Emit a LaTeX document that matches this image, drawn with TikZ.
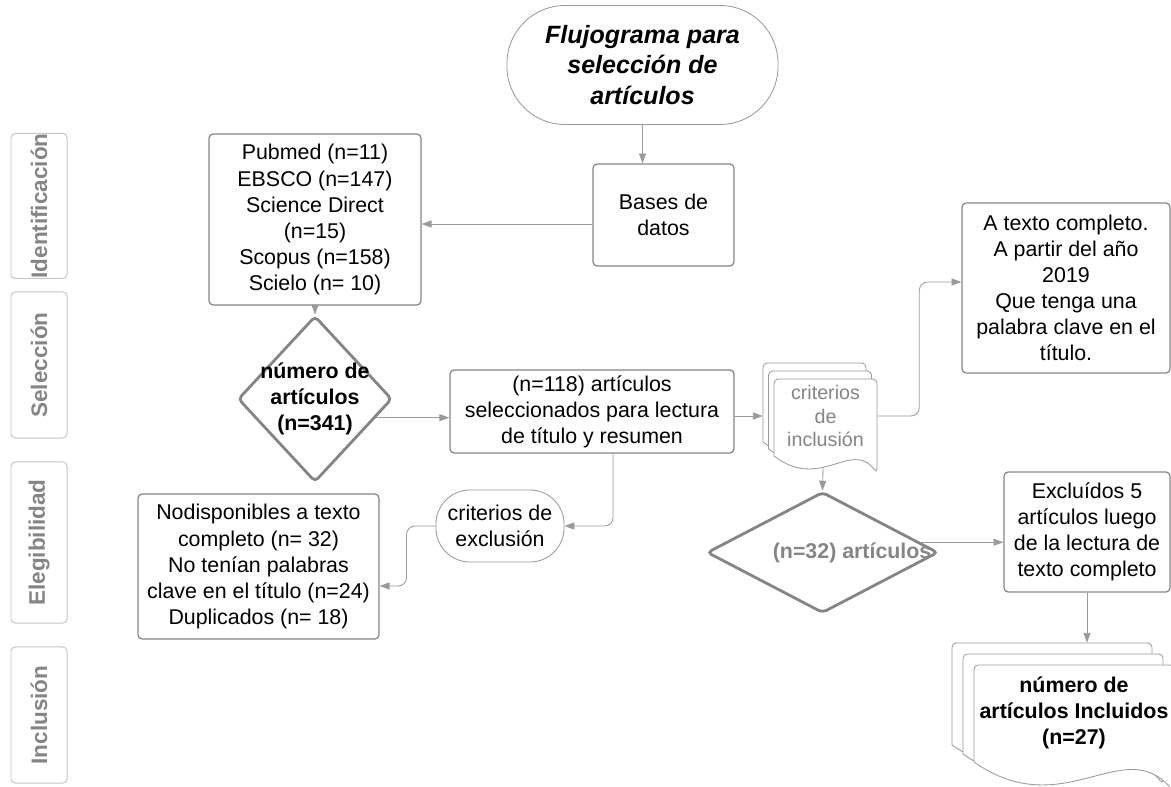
\documentclass[tikz,border=0pt]{standalone}
\usepackage{fontspec}
\setmainfont{Liberation Sans}
\usetikzlibrary{shapes.geometric,arrows.meta,calc}
\definecolor{linegray}{HTML}{9A9A9A}
\definecolor{boxgray}{HTML}{858585}
\definecolor{textgray}{HTML}{858585}
\definecolor{stagegray}{HTML}{C4C4C4}
% one page of a stacked document: x, y, width, left height, wave
\newcommand{\docpage}[5]{%
  \filldraw[docline] (#1,#2+#4) [rounded corners=3pt] -- (#1,#2) -- (#1+#3,#2) -- (#1+#3,#2+#4+#5)
    [sharp corners] .. controls (#1+0.75*#3,#2+#4-#5) and (#1+0.45*#3,#2+#4+2.1*#5) .. (#1,#2+#4) -- cycle;}
\begin{document}
\begin{tikzpicture}[x=0.025cm,y=-0.025cm,>={Triangle[length=7pt,width=5pt]},
  every node/.style={font=\fontsize{15.2}{18.5}\selectfont,align=center,inner sep=0pt},
  box/.style={draw=boxgray,line width=0.9pt,rounded corners=3pt},
  terminal/.style={draw=linegray,line width=0.6pt},
  decision/.style={diamond,draw=boxgray,line width=2pt,rounded corners=3pt},
  dtext/.style={font=\fontsize{15.2}{18.5}\selectfont\bfseries},
  stage/.style={draw=stagegray,line width=0.7pt,rounded corners=3pt,rotate=90,minimum height=1.4cm,
    text=textgray,font=\fontsize{16}{18}\selectfont\bfseries},
  docline/.style={draw=linegray,fill=white,line width=0.6pt},
  arr/.style={draw=linegray,line width=0.6pt,->}]
\useasboundingbox (0,0) rectangle (1171,787);
% stages
\node[stage,minimum width=3.55cm] (ident) at (39,206) {Identificación};
\node[stage,minimum width=3.65cm] (selec) at (39,365) {Selección};
\node[stage,minimum width=4.025cm] (eleg) at (39,542.5) {Elegibilidad};
\node[stage,minimum width=3.4cm] (inclu) at (39,715) {Inclusión};
% main flow
\node[terminal,minimum width=6.775cm,minimum height=2.975cm,rounded corners=1.45cm,
  font=\fontsize{17.8}{22}\selectfont\bfseries\itshape] (title) at (642.5,65) {Flujograma para\\selección de\\artículos};
\node[box,minimum width=3.525cm,minimum height=2.55cm] (bases) at (663.5,215) {Bases de\\datos};
\node[box,minimum width=5.3cm,minimum height=4.275cm] (src) at (315,219.5) {Pubmed (n=11)\\EBSCO (n=147)\\Science Direct\\(n=15)\\Scopus (n=158)\\Scielo (n= 10)};
\node[decision,minimum width=3.85cm,minimum height=4.15cm,
  label={[dtext]center:{número de\\artículos\\(n=341)}}] (d1) at (315,399) {};
\node[box,minimum width=7.1cm,minimum height=2.075cm] (sel) at (592,411.5) {(n=118) artículos\\seleccionados para lectura\\de título y resumen};
\docpage{763}{363}{103}{79}{17}
\docpage{768.5}{371}{103}{78}{17}
\docpage{774}{379}{103}{77}{17}
\node[minimum width=2.575cm,minimum height=1.85cm,text=textgray,
  font=\fontsize{14}{17}\selectfont] (inc) at (825.5,416) {criterios\\de\\inclusión};
\coordinate (incback) at ($(inc.west)+(-11,0)$);
\coordinate (incbot) at ($(inc.south)+(-2.5,14)$);
\node[box,minimum width=5.2cm,minimum height=4.25cm] (atc) at (1066,288) {A texto completo.\\A partir del año\\2019\\Que tenga una\\palabra clave en el\\título.};
\node[decision,minimum width=5.775cm,minimum height=3.025cm,
  label={[dtext,text=textgray,xshift=0.74cm]center:{(n=32) artículos}}] (d2) at (822.5,552.5) {};
\node[box,minimum width=4.15cm,minimum height=3cm] (excl) at (1087,532) {Excluídos 5\\artículos luego\\de la lectura de\\texto completo};
\docpage{952}{643}{200}{102}{30}
\docpage{963}{654}{200}{100}{30}
\docpage{974}{665}{200}{97}{30}
\node[dtext,minimum width=5cm,minimum height=2.4cm] (incl) at (1074,713) {número de\\artículos Incluidos\\(n=27)};
\coordinate (inctop) at ($(incl.north)+(0,-22)$);
\node[box,minimum width=6.025cm,minimum height=3.625cm] (nod) at (258.5,566.5) {Nodisponibles a texto\\completo (n= 32)\\No tenían palabras\\clave en el título (n=24)\\Duplicados (n= 18)};
\node[terminal,minimum width=3.2cm,minimum height=1.8cm,rounded corners=0.85cm] (exc) at (500,526) {criterios de\\exclusión};
% connectors
\draw[arr] (title.south) -- (title.south |- bases.north);
\draw[arr] (bases.west |- 0,224) -- (src.east |- 0,224);
\draw[arr] (src.south) -- (d1.north);
\draw[arr] (d1.-17) -- (sel.west |- d1.-17);
\draw[arr] (sel.east |- incback) -- (incback);
\draw[arr,rounded corners=6pt] (inc.east) -- ++(42,0) |- ($(atc.west)+(0,-6)$);
\draw[arr] (incbot) -- (d2.north);
\draw[arr] (d2.6) -- (excl.west |- d2.6);
\draw[arr] (excl.south) -- (excl.south |- inctop);
\draw[arr,rounded corners=6pt] ($(sel.south)+(21,0)$) |- (exc.east);
\draw[arr,rounded corners=6pt] (exc.west) -- ++(-29,0) |- ($(nod.east)+(0,19.5)$);
\end{tikzpicture}
\end{document}
